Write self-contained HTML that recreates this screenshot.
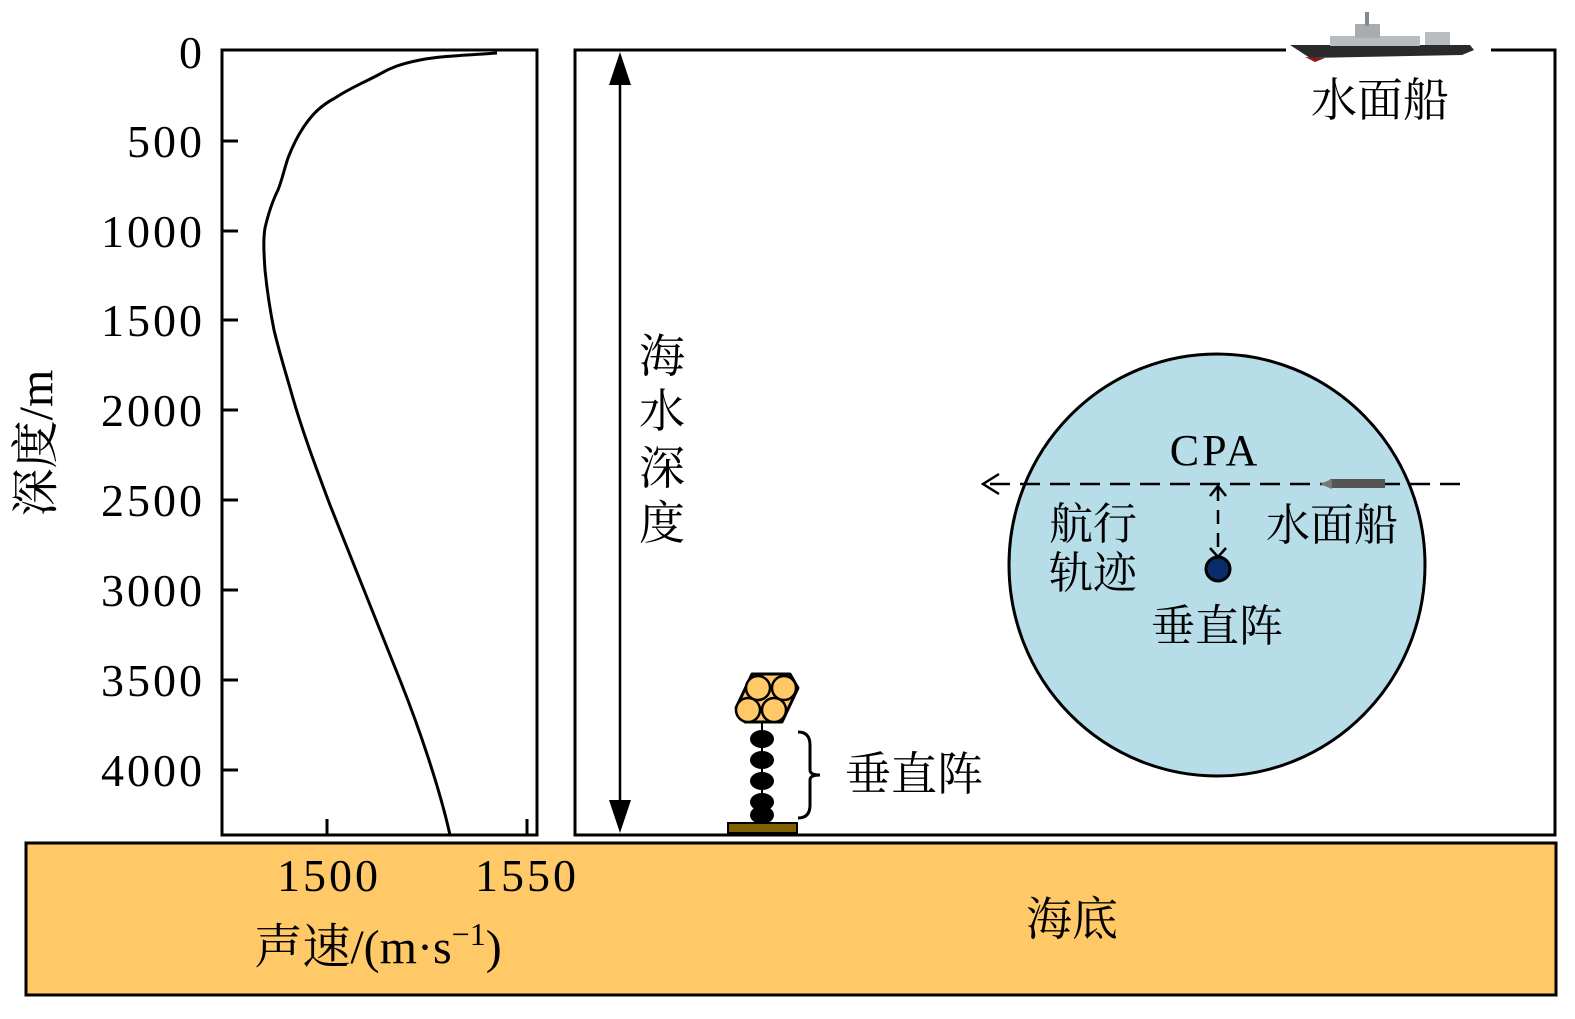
<!DOCTYPE html>
<html><head><meta charset="utf-8"><style>
html,body{margin:0;padding:0;background:#fff;}
svg text{font-family:"Liberation Serif","Noto Serif CJK SC",serif;fill:#000;}
</style></head><body>
<svg width="1575" height="1014" viewBox="0 0 1575 1014" xmlns="http://www.w3.org/2000/svg">
<!-- seabed -->
<rect x="26" y="843" width="1530" height="152" fill="#fec966" stroke="#000" stroke-width="3"/>
<text x="1072" y="935" font-size="46" text-anchor="middle">海底</text>
<!-- left plot -->
<rect x="222" y="50" width="315" height="785" fill="#fff" stroke="#000" stroke-width="3"/>
<g stroke="#000" stroke-width="3">
<line x1="222" y1="141" x2="238" y2="141"/><line x1="222" y1="231" x2="238" y2="231"/>
<line x1="222" y1="320" x2="238" y2="320"/><line x1="222" y1="410" x2="238" y2="410"/>
<line x1="222" y1="500" x2="238" y2="500"/><line x1="222" y1="590" x2="238" y2="590"/>
<line x1="222" y1="680" x2="238" y2="680"/><line x1="222" y1="770" x2="238" y2="770"/>
<line x1="327" y1="835" x2="327" y2="819"/><line x1="527" y1="835" x2="527" y2="819"/>
</g>
<g font-size="46" text-anchor="end" letter-spacing="3">
<text x="205" y="68">0</text><text x="205" y="157">500</text><text x="205" y="247">1000</text>
<text x="205" y="336">1500</text><text x="205" y="426">2000</text><text x="205" y="516">2500</text>
<text x="205" y="606">3000</text><text x="205" y="696">3500</text><text x="205" y="786">4000</text>
</g>
<g font-size="46" text-anchor="middle" letter-spacing="3"><text x="329" y="891">1500</text><text x="527" y="891">1550</text></g>
<text x="378" y="963" font-size="48" text-anchor="middle">声速/(m·s<tspan font-size="32" dy="-18">−1</tspan><tspan dy="18">)</tspan></text>
<text transform="translate(52,443) rotate(-90)" font-size="48" text-anchor="middle">深度/m</text>
<path d="M497,53 C470,55 440,56 420,60 C400,64 390,68 380,74 C365,82 350,88 335,98 C320,106 312,115 305,125 C298,135 293,145 288,158 C284,170 282,180 278,190 C272,202 268,215 265,228 C263,240 264,255 265,270 C267,290 270,310 274,330 C280,355 285,370 292,395 C302,430 315,465 330,505 C350,555 380,630 400,680 C420,730 440,790 450,835" fill="none" stroke="#000" stroke-width="3"/>
<!-- right box -->
<rect x="575" y="50" width="980" height="785" fill="#fff" stroke="#000" stroke-width="3"/>
<line x1="620" y1="56" x2="620" y2="829" stroke="#000" stroke-width="2.5"/>
<polygon points="620,52 609,85 631,85" fill="#000"/>
<polygon points="620,833 609,800 631,800" fill="#000"/>
<g font-size="46" text-anchor="middle"><text x="662" y="372">海</text><text x="662" y="427">水</text><text x="662" y="484">深</text><text x="662" y="539">度</text></g>
<!-- ship top -->
<rect x="1286" y="36" width="205" height="22" fill="#fff"/>
<path d="M1290,45 L1470,45 L1474,50 L1462,55 L1310,58 Z" fill="#2a2a2a"/>
<path d="M1305,57 L1325,58 L1315,62 Z" fill="#8b1a1a"/>
<rect x="1330" y="36" width="90" height="10" fill="#b8bcbf"/>
<rect x="1355" y="24" width="25" height="14" fill="#a8acaf"/>
<rect x="1365" y="12" width="4" height="14" fill="#888"/>
<rect x="1425" y="32" width="25" height="13" fill="#b8bcbf"/>
<text x="1380" y="116" font-size="46" text-anchor="middle">水面船</text>
<!-- circle -->
<ellipse cx="1217" cy="565" rx="208" ry="211" fill="#b6dde8" stroke="#000" stroke-width="3"/>
<line x1="1460" y1="484" x2="985" y2="484" stroke="#000" stroke-width="2.5" stroke-dasharray="20,10"/>
<path d="M999,474 L983,484 L999,494" fill="none" stroke="#000" stroke-width="2.5"/>
<rect x="1330" y="479" width="55" height="9" fill="#555"/>
<path d="M1320,484 L1332,479 L1332,489 Z" fill="#777"/>
<text x="1215" y="465" font-size="44" text-anchor="middle" letter-spacing="3">CPA</text>
<line x1="1218" y1="487" x2="1218" y2="553" stroke="#000" stroke-width="2.5" stroke-dasharray="14,9"/>
<path d="M1210,496 L1218,486 L1226,496" fill="none" stroke="#000" stroke-width="2.5"/>
<path d="M1210,548 L1218,557 L1226,548" fill="none" stroke="#000" stroke-width="2.5"/>
<circle cx="1218" cy="569" r="12" fill="#0b2c6b" stroke="#000" stroke-width="3"/>
<g font-size="44" text-anchor="middle">
<text x="1093" y="539">航行</text><text x="1093" y="588">轨迹</text>
<text x="1332" y="540">水面船</text><text x="1217" y="641">垂直阵</text></g>
<!-- array -->
<path d="M752,674 L790,674 L798,688 L782,722 L745,722 L736,708 Z" fill="#fec966" stroke="#000" stroke-width="3" stroke-linejoin="round"/>
<g fill="#fec966" stroke="#000" stroke-width="2.5">
<circle cx="758" cy="688" r="12"/><circle cx="784" cy="688" r="12"/>
<circle cx="748" cy="710" r="12"/><circle cx="774" cy="710" r="12"/></g>
<line x1="762" y1="722" x2="762" y2="825" stroke="#000" stroke-width="2"/>
<g fill="#000"><ellipse cx="762" cy="739" rx="12" ry="9"/><ellipse cx="762" cy="760" rx="12" ry="9"/>
<ellipse cx="762" cy="781" rx="12" ry="9"/><ellipse cx="762" cy="802" rx="12" ry="9"/><ellipse cx="762" cy="815" rx="12" ry="9"/></g>
<rect x="728" y="823" width="69" height="10" fill="#7f6000" stroke="#000" stroke-width="2"/>
<path d="M798,732 Q810,732 810,745 L810,770 Q810,775 820,775 Q810,775 810,780 L810,805 Q810,818 798,818" fill="none" stroke="#000" stroke-width="3"/>
<text x="845" y="790" font-size="46">垂直阵</text>
</svg>
</body></html>
